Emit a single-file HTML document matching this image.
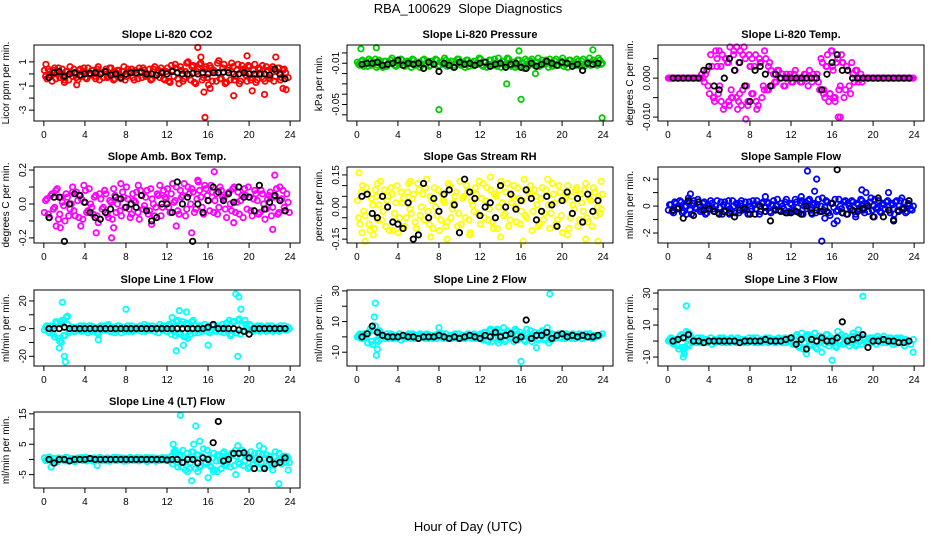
<!DOCTYPE html>
<html><head><meta charset="utf-8"><style>
html,body{margin:0;padding:0;background:#fff;}
svg{display:block;font-family:"Liberation Sans",Arial,sans-serif;}
</style></head><body>
<svg id="chart" width="936" height="540" viewBox="0 0 936 540">
<text x="468" y="13" text-anchor="middle" font-size="13" xml:space="preserve">RBA_100629  Slope Diagnostics</text>
<text x="468" y="531" text-anchor="middle" font-size="13">Hour of Day (UTC)</text>
</svg>
<script>
const xTicks=[0,4,8,12,16,20,24];
const co2Band=[0.3,-0.4,0.2,-0.6,0.5,0.1,-0.3,0.4,-0.5,0.2,0.6,-0.2,0.0,-0.5,0.4,0.2,-0.3,0.5,-0.1,0.3,-0.4,0.6,0.0,-0.3,0.4,-0.2,0.5,-0.5,0.1,0.3,-0.4,0.6,-0.2,0.2,0.4,-0.5,0.0,0.5,-0.3,0.3,-0.1,0.4,-0.4,0.6,0.1,-0.3,0.2,-0.5,0.5,-0.7,0.3,0.8,-0.4,0.6,-0.6,0.2,1.0,-0.5,0.7,-0.8,0.4,0.9,-0.3,0.6,-0.9,0.5,0.3,-0.6,1.1,-0.4,0.8,-0.7,0.5,0.9,-0.5,0.3,-0.8,0.7,0.2,-0.6,0.6,-0.3,0.8,-0.5,0.4,0.7,-0.6,0.3,-0.4,0.6,-0.2,0.5,-0.5,0.3,0.1,-0.3];
const co2Band2=[-0.2,0.4,-0.1,0.3,-0.4,0.5,0.0,-0.3,0.2,-0.5,0.1,0.4,-0.3,0.3,-0.2,0.5,-0.4,0.0,0.3,-0.2,0.4,-0.5,0.1,0.2,-0.3,0.5,0.0,-0.4,0.3,-0.1,0.2,-0.5,0.4,0.1,-0.3,0.3,-0.4,0.2,0.5,-0.2,0.0,-0.5,0.4,-0.1,0.3,0.5,-0.4,0.2,-0.6,0.7,-0.2,0.5,-0.8,0.3,-0.4,0.9,-0.1,0.6,-0.7,0.2,0.8,-0.5,0.4,-0.3,0.7,-0.6,0.1,0.9,-0.4,0.5,-0.8,0.3,-0.5,0.6,-0.2,0.8,-0.6,0.4,-0.1,0.7,-0.5,0.3,-0.7,0.5,0.0,-0.4,0.6,-0.3,0.4,-0.6,0.2,0.5,-0.3,0.4];
const co2Black=[-0.3,0.1,0.2,-0.2,0.0,0.1,-0.1,0.0,0.05,0.1,0.0,0.2,-0.1,0.0,-0.3,0.0,0.1,0.1,0.15,0.0,0.0,-0.1,0.1,0.0,0.2,0.1,0.0,0.0,0.05,0.0,0.1,0.0,0.1,0.1,0.15,0.1,0.0,0.0,0.1,0.0,0.0,0.0,0.0,-0.1,0.4,0.0,-0.4];
const co2OutX=[15.0,15.3,15.6,15.7,16.2,18.5,19.8,20.3,21.5,22.6,23.3,23.6,3.2,0.2,2.0];
const co2OutY=[2.2,1.4,-1.5,-3.6,-1.2,-1.8,1.5,-1.4,-1.7,1.4,-1.2,-1.3,-0.9,0.8,-0.7];
const pressBand=[-0.009,-0.012,-0.007,-0.011,-0.013,-0.008,-0.010,-0.006,-0.012,-0.009,-0.014,-0.008,-0.011,-0.007,-0.010,-0.013,-0.009,-0.006,-0.012,-0.010,-0.008,-0.014,-0.007,-0.011,-0.009,-0.012,-0.006,-0.010,-0.013,-0.008,-0.011,-0.007,-0.012,-0.009,-0.005,-0.013,-0.010,-0.008,-0.012,-0.006,-0.011,-0.009,-0.014,-0.007,-0.010,-0.012,-0.008,-0.011,-0.006,-0.013,-0.009,-0.011,-0.007,-0.012,-0.010,-0.005,-0.014,-0.008,-0.011,-0.006,-0.013,-0.009,-0.012,-0.007,-0.010,-0.015,-0.008,-0.011,-0.006,-0.012,-0.009,-0.013,-0.007,-0.011,-0.010,-0.006,-0.013,-0.008,-0.012,-0.009,-0.005,-0.011,-0.014,-0.007,-0.010,-0.012,-0.008,-0.013,-0.006,-0.011,-0.009,-0.012,-0.007,-0.010,-0.005,-0.011];
const pressBand2=[-0.011,-0.008,-0.013,-0.010,-0.006,-0.012,-0.009,-0.014,-0.007,-0.011,-0.008,-0.013,-0.010,-0.005,-0.012,-0.009,-0.011,-0.007,-0.013,-0.008,-0.010,-0.006,-0.012,-0.009,-0.014,-0.007,-0.011,-0.008,-0.012,-0.010,-0.006,-0.013,-0.009,-0.011,-0.007,-0.012,-0.008,-0.014,-0.010,-0.006,-0.012,-0.009,-0.007,-0.013,-0.011,-0.008,-0.010,-0.005,-0.012,-0.009,-0.014,-0.007,-0.011,-0.006,-0.013,-0.010,-0.008,-0.012,-0.005,-0.011,-0.009,-0.014,-0.007,-0.012,-0.010,-0.006,-0.013,-0.008,-0.011,-0.009,-0.005,-0.012,-0.010,-0.007,-0.014,-0.009,-0.011,-0.006,-0.012,-0.008,-0.013,-0.010,-0.007,-0.011,-0.009,-0.006,-0.012,-0.008,-0.013,-0.010,-0.005,-0.011,-0.009,-0.012,-0.007,-0.010];
const pressBlack=[-0.011,-0.010,-0.010,-0.009,-0.012,-0.011,-0.010,-0.007,-0.012,-0.010,-0.011,-0.010,-0.015,-0.009,-0.011,-0.018,-0.010,-0.012,-0.014,-0.009,-0.011,-0.010,-0.012,-0.010,-0.009,-0.013,-0.011,-0.010,-0.014,-0.011,-0.010,-0.014,-0.015,-0.010,-0.013,-0.011,-0.008,-0.010,-0.012,-0.009,-0.010,-0.013,-0.011,-0.017,-0.010,-0.011,-0.010];
const pressOutX=[0.4,1.9,8.0,14.6,16.0,23.9,17.4,23.0,15.8];
const pressOutY=[0.004,0.005,-0.055,-0.030,-0.045,-0.063,-0.020,0.003,0.002];
const tempBand=[0,0,0,0,0,0,0,0,0,0,0,0,0,0.001,-0.001,0.002,-0.004,0.003,-0.006,0.005,-0.002,0.006,-0.007,0.004,0.008,-0.005,0.002,-0.008,0.007,-0.003,0.005,-0.006,0.003,-0.004,0.006,-0.007,0.004,-0.002,0.005,-0.003,0.002,0.001,-0.001,0.002,0,-0.002,0.001,0,-0.001,0.001,0,0,-0.001,0.001,0,0.002,-0.001,0,0.001,-0.003,0.004,-0.005,0.006,-0.004,0.003,-0.006,0.005,-0.002,0.004,-0.003,0.002,-0.004,0.001,0.002,-0.001,0.001,0,0,0,0,0,0,0,0,0,0,0,0,0,0,0,0,0,0,0,0];
const tempBand2=[0,0,0,0,0,0,0,0,0,0,0,0,0,0,0.001,-0.002,0.006,-0.005,0.007,-0.004,0.003,-0.008,0.005,-0.006,-0.003,0.007,-0.005,0.004,-0.007,0.008,-0.002,0.006,-0.004,0.003,-0.008,0.005,-0.005,0.007,-0.003,0.004,-0.002,-0.001,0.002,0,0.001,-0.002,0,0.001,-0.001,0.002,0,-0.001,0,0.001,-0.002,0,0.001,0,-0.001,0.005,-0.004,0.003,-0.006,0.007,-0.005,0.004,-0.003,0.006,-0.005,0.003,-0.002,0.004,-0.001,0.002,0,-0.001,0,0,0,0,0,0,0,0,0,0,0,0,0,0,0,0,0,0,0,0];
const tempBlack=[0,0,0,0,0,0,0.002,0.003,-0.002,-0.003,0,0.005,0.002,0.004,-0.002,-0.006,0.002,0.003,0.001,-0.002,0.001,0,0,0,0,0,0,0,0,-0.003,0.001,0.004,0.006,0.002,0.002,0,0,0,0,0,0,0,0,0,0,0,0];
const tempOutX=[4.5,4.8,5.2,5.6,6.0,6.4,6.7,7.0,7.3,7.6,8.2,8.6,9.0,9.4,5.0,6.2,7.8,8.0,15.5,15.8,16.0,16.3,16.6,16.8,17.0,15.2,16.1,5.9,6.9,9.8];
const tempOutY=[-0.005,0.003,-0.006,0.005,-0.007,0.006,0.008,-0.004,0.006,-0.0105,0.005,-0.006,0.004,-0.003,0.007,-0.005,-0.007,0.003,0.003,-0.004,0.007,-0.005,-0.010,-0.010,0.004,-0.003,0.002,0.004,-0.006,0.003];
const ambBand=[-0.05,0.03,-0.08,0.06,-0.02,0.09,-0.06,0.01,-0.10,0.04,-0.03,0.07,-0.07,0.02,0.05,-0.09,0.08,-0.04,0.00,-0.06,0.05,-0.11,0.03,-0.02,0.06,-0.08,0.01,0.09,-0.05,0.03,-0.07,0.04,0.10,-0.03,-0.06,0.02,0.07,-0.09,0.05,-0.01,0.08,-0.04,0.03,-0.07,0.06,0.11,-0.02,0.04,0.09,-0.05,0.12,0.02,-0.04,0.08,0.05,-0.07,0.10,0.00,0.07,-0.03,0.13,0.04,-0.06,0.09,0.02,0.11,-0.05,0.06,-0.02,0.08,0.03,-0.08,0.07,-0.04,0.10,0.01,-0.06,0.05,0.09,-0.03,0.04,-0.07,0.08,0.02,-0.05,0.06,-0.09,0.03,0.07,-0.02,0.05,-0.06,0.02,0.08,-0.04,0.01];
const ambBand2=[0.02,-0.06,0.05,-0.03,0.08,-0.09,0.04,-0.01,0.06,-0.07,0.00,-0.04,0.07,-0.08,0.03,0.01,-0.05,0.09,-0.02,0.04,-0.07,0.06,-0.03,0.08,-0.06,0.02,-0.09,0.05,0.00,-0.04,0.07,-0.02,0.03,-0.08,0.06,0.01,-0.05,0.08,-0.03,0.04,-0.06,0.09,0.00,-0.02,0.05,-0.07,0.08,0.03,-0.02,0.06,0.01,0.10,-0.06,0.04,0.12,-0.03,0.06,0.09,-0.05,0.03,0.08,-0.02,0.11,0.05,-0.04,0.07,0.02,-0.06,0.10,0.04,-0.03,0.06,0.00,0.09,-0.05,0.07,0.02,-0.08,0.05,0.10,-0.04,0.03,0.06,-0.06,0.08,0.00,-0.03,0.05,-0.07,0.04,0.09,-0.05,0.03,-0.02,0.06,-0.05];
const ambBlack=[-0.08,0.04,0.04,-0.22,0.0,0.06,0.05,0.01,-0.05,-0.08,-0.09,-0.05,-0.03,0.04,0.03,-0.02,0.0,-0.02,0.05,-0.04,-0.1,-0.08,0.0,0.0,-0.05,0.13,0.0,0.04,-0.22,0.0,-0.05,0.02,0.1,0.07,0.02,0.06,0.01,0.1,0.04,0.04,-0.04,0.11,-0.03,0.01,0.05,0.02,-0.04];
const ambOutX=[1.2,1.6,2.8,3.6,5.1,6.6,6.8,9.2,12.9,14.4,16.6,18.5,22.3,22.5,23.0,7.5,15.0,3.9,10.5];
const ambOutY=[-0.13,-0.14,0.10,-0.13,-0.17,-0.20,-0.14,0.11,-0.13,-0.17,0.19,-0.11,-0.15,0.17,0.10,0.12,0.14,0.11,-0.12];
const rhBand=[0.03,-0.08,0.10,-0.04,0.06,-0.11,0.01,0.08,-0.06,0.12,-0.02,-0.09,0.05,0.09,-0.07,0.02,-0.12,0.07,0.04,-0.05,0.11,-0.03,0.06,-0.10,0.08,0.00,-0.06,0.13,-0.08,0.03,0.09,-0.04,-0.11,0.06,0.02,-0.07,0.10,-0.01,0.05,-0.09,0.12,0.04,-0.05,0.07,-0.12,0.01,0.09,-0.03,-0.08,0.11,0.03,-0.06,0.08,-0.10,0.05,0.00,0.12,-0.04,0.07,-0.09,0.02,0.10,-0.07,0.04,-0.02,0.13,-0.05,0.06,-0.11,0.08,0.01,-0.08,0.09,-0.03,0.05,-0.10,0.11,0.02,-0.06,0.07,-0.12,0.04,0.10,-0.05,0.01,0.08,-0.09,0.06,-0.02,0.11,-0.07,0.03,0.09,-0.04,0.05,-0.01];
const rhBand2=[-0.05,0.07,-0.02,0.09,-0.08,0.04,-0.10,0.05,0.01,-0.06,0.08,0.03,-0.11,0.06,-0.03,0.10,-0.05,0.02,-0.09,0.07,-0.01,0.04,-0.07,0.11,-0.04,0.06,0.09,-0.02,0.05,-0.10,0.00,0.08,-0.06,0.03,-0.09,0.11,-0.05,0.02,0.07,-0.03,-0.08,0.05,0.10,-0.06,0.03,-0.02,0.06,0.12,0.04,-0.05,0.09,-0.01,-0.07,0.06,-0.10,0.08,0.02,-0.03,0.11,-0.06,0.05,0.00,0.09,-0.08,0.03,-0.04,0.07,0.10,-0.02,0.05,-0.09,0.04,-0.06,0.08,0.01,-0.03,0.06,-0.08,0.10,-0.04,0.03,0.07,-0.10,0.05,-0.01,0.09,-0.06,0.02,0.08,-0.05,0.04,-0.09,0.07,0.00,-0.03,0.06];
const rhBlack=[0.05,0.06,-0.03,-0.05,0.05,0.0,-0.07,-0.08,-0.10,0.02,-0.15,-0.13,0.11,-0.05,0.04,-0.02,0.06,0.08,0.01,-0.12,0.13,0.07,0.04,-0.04,0.0,0.02,-0.05,0.1,0.0,0.06,-0.01,0.03,0.08,0.04,-0.06,-0.02,0.05,0.01,-0.09,0.03,0.07,-0.03,0.04,-0.07,0.06,-0.02,0.03];
const rhOutX=[0.2,0.5,0.8,1.6,2.0,5.2,7.2,8.8,11.0,13.0,14.0,16.2,18.6,20.5,22.3,23.5,23.8,3.5];
const rhOutY=[0.16,-0.12,-0.16,-0.13,0.11,0.12,-0.14,-0.15,-0.13,0.14,-0.14,-0.16,0.13,-0.13,-0.15,-0.16,0.12,-0.11];
const flowBand=[-0.3,0.1,-0.5,0.2,-0.1,0.3,-0.4,0.0,0.2,-0.6,0.4,-0.2,0.1,-0.3,0.3,-0.5,0.0,0.2,-0.4,0.4,-0.1,-0.6,0.3,0.0,-0.2,0.4,-0.5,0.1,0.2,-0.3,0.3,-0.6,0.0,0.4,-0.2,0.1,-0.4,0.3,-0.1,0.2,-0.5,0.4,0.0,-0.3,0.2,-0.2,0.5,-0.4,0.1,-0.3,0.3,-0.5,0.4,0.0,-0.2,0.5,-0.6,0.2,0.1,-0.4,0.6,-0.1,0.3,-0.7,0.2,0.5,-0.3,0.0,-0.5,0.4,0.2,-0.2,0.3,-0.6,0.1,0.5,-0.3,0.2,-0.4,0.6,0.0,-0.2,0.4,-0.5,0.1,0.3,-0.3,0.2,-0.6,0.4,0.0,-0.2,0.3,-0.4,0.1,-0.3];
const flowBand2=[0.1,-0.4,0.3,-0.2,0.4,-0.5,0.0,0.3,-0.3,0.2,-0.1,0.5,-0.4,0.2,-0.6,0.1,0.4,-0.2,0.0,-0.5,0.3,0.1,-0.3,0.4,-0.4,0.0,0.2,-0.5,0.4,-0.1,-0.3,0.3,-0.2,0.1,0.4,-0.6,0.2,-0.1,0.3,-0.4,0.1,-0.2,0.5,-0.3,0.0,0.3,-0.5,0.2,-0.4,0.5,-0.1,0.2,-0.6,0.3,0.4,-0.3,0.1,-0.5,0.5,0.0,-0.3,0.4,-0.5,0.2,-0.1,-0.4,0.5,-0.2,0.3,-0.6,0.0,0.4,-0.4,0.2,-0.2,0.4,-0.5,0.1,0.3,-0.3,0.5,-0.1,-0.4,0.2,-0.2,0.4,-0.5,0.1,0.3,-0.3,0.4,-0.1,-0.5,0.2,-0.2,0.0];
const flowBlack=[-0.3,-0.2,-0.9,0.4,-0.7,0.3,-0.3,-0.2,-0.4,-0.6,-0.4,-0.5,-0.8,-0.3,-0.2,-0.6,-0.6,0.0,-0.4,-1.1,-0.3,-0.4,-0.5,-0.5,-0.4,-0.6,0.0,-0.5,-0.3,-0.4,-0.4,0.2,2.7,-0.5,-0.6,-0.3,-0.4,-0.2,0.0,-0.8,0.6,-0.8,-0.3,-1.1,-0.4,-0.2,0.4];
const flowOutX=[2.2,2.0,1.8,13.6,14.5,15.0,14.3,16.2,16.5,15.3,18.9,19.3,21.5,22.0,22.8,13.0,6.0,9.5,20.1,18.3];
const flowOutY=[0.9,0.6,-0.6,2.6,2.0,-2.6,1.1,-1.3,-1.1,-0.9,1.2,1.0,1.0,-1.0,0.6,0.7,-0.6,0.7,-0.8,-0.8];
const line1Band=[-1,2,-3,1,-6,4,-9,6,-5,3,-2,1,-2,0,2,-1,1,-3,2,-1,0,-4,2,1,-1,3,-2,0,-1,2,-3,1,0,-2,2,-1,1,0,-2,3,-1,1,2,-2,0,3,-1,1,-2,2,4,-5,6,-3,5,-6,3,-4,6,2,-3,1,0,-2,2,-1,3,-2,1,0,-3,4,6,-4,5,-3,7,2,-2,1,3,-1,0,2,-2,1,-1,2,0,-2,1,-1,2,0,-1,1];
const line1Band2=[1,-2,2,-4,5,-7,3,-5,8,-3,1,-2,1,-1,-2,2,-1,2,-2,1,-3,1,-1,2,2,-2,1,-3,2,0,1,-2,2,-1,-2,1,-1,2,1,-2,2,-1,0,1,-3,1,2,-2,3,-4,-2,5,-4,3,-6,4,-2,5,-3,-1,2,-2,3,0,-3,2,-1,2,-2,3,1,-2,-5,5,-3,6,-4,-2,3,-1,2,-2,1,-1,2,0,-2,1,2,-1,1,-2,0,2,-1,0];
const line1Black=[0,0,0,1,0,0,0,0,0,0,0,0,0,0,0,0,0,0,0,0,0,0,0,0,0,0,0,0,0,0,0,1,3,0,0,0,0,-1,-2,-4,0,0,0,0,0,0,0];
const line1OutX=[1.8,2.0,2.1,1.5,1.7,1.6,2.3,8.0,5.3,12.5,12.9,13.2,13.9,13.6,14.0,16.0,18.7,19.0,18.9,19.2,19.6];
const line1OutY=[19,-20,-24,-14,-10,5,9,14,-8,8,-16,13,12,-12,-7,-12,25,23,-20,14,6];
const line2Band=[0,2,-1,1,-4,5,-5,7,-3,3,1,-1,0,2,-1,1,0,-2,1,0,2,-1,1,0,-1,1,0,2,-1,0,1,-1,0,2,0,-1,1,0,2,-1,0,1,-1,2,0,1,-1,0,2,-2,3,-3,5,-1,4,-4,1,6,-2,3,0,-3,4,-1,1,-2,5,0,-3,3,1,-1,4,-2,6,0,2,-1,1,0,2,-1,1,0,2,-1,0,1,-1,2,0,1,-1,0];
const line2Band2=[1,-1,2,0,3,-3,4,-2,2,-1,0,2,-1,1,1,-1,2,0,-1,1,0,2,-1,1,2,0,-1,1,1,-1,0,2,1,-1,2,0,-1,1,0,2,1,-1,0,1,-1,2,0,1,-1,3,-2,4,-3,2,5,-2,3,-3,4,-1,2,5,-2,3,0,-3,2,4,-1,1,-2,3,2,-1,3,-2,1,0,2,-1,1,2,0,-1,1,0,2,-1,1,0,2,-1,1,0,1,2];
const line2Black=[0,2,7,3,1,0,0,0,1,0,0,-1,0,0,0,1,0,-1,0,-1,0,1,0,-1,1,0,3,0,1,2,-2,0,11,-1,1,1,3,-1,1,2,0,1,0,1,0,0,1];
const line2OutX=[1.8,1.9,1.7,2.0,2.2,8.0,16.0,18.8,13.0,17.5,18.7];
const line2OutY=[22,-12,13,-8,4,6,-16,28,5,-7,-4];
const line3Band=[0,2,-2,1,-5,4,-6,6,-3,2,1,-1,0,2,-1,1,0,-2,1,0,2,-1,1,0,-1,1,0,2,-1,0,1,-1,0,2,0,-1,1,0,2,-1,0,1,-1,2,0,1,-1,0,2,-2,4,-4,5,-1,3,-3,1,5,-5,3,0,-2,4,-1,1,-3,6,0,-2,3,1,-1,5,-3,7,0,2,-1,1,0,2,-2,1,0,3,-1,0,1,-2,2,0,1,-3,0];
const line3Band2=[1,-1,1,-3,3,-4,2,-2,4,-1,0,2,-1,1,1,-1,2,0,-1,1,0,2,-1,1,2,0,-1,1,1,-1,0,2,1,-1,2,0,-1,1,0,2,1,-1,0,1,-1,2,0,1,-2,3,-3,2,-5,3,4,-2,2,-4,3,-1,2,4,-3,2,-1,-4,3,4,-1,1,-3,3,3,-2,4,-2,1,0,2,-1,1,3,0,-1,1,0,2,-2,1,0,2,-1,1,0,-2,1];
const line3Black=[0,1,2,4,0,0,-1,0,0,0,0,0,0,-1,0,0,0,0,1,0,0,0,1,2,-2,1,-5,1,0,2,0,0,2,12,0,1,2,4,-4,0,0,1,0,0,-1,-1,0];
const line3OutX=[1.8,1.6,1.5,2.0,19.0,16.0,13.5,15.0,23.9,1.7];
const line3OutY=[22,-8,-10,5,28,-12,-8,-7,-7,-4];
const line4Band=[0.5,-0.3,0.8,-0.6,0.2,-0.8,0.4,0.0,-0.5,0.6,-0.2,0.3,-0.7,0.5,0.1,-0.4,0.7,-0.1,0.2,-0.6,0.4,-0.3,0.6,0.0,-0.5,0.3,-0.2,0.7,-0.4,0.1,0.5,-0.6,0.2,-0.1,0.4,-0.3,0.6,-0.5,0.0,0.3,-0.7,0.5,-0.2,0.1,0.4,-0.4,0.6,-0.1,0.2,-0.5,-1.5,2.0,-2.5,1.0,3.0,-3.5,0.5,-1.0,2.5,-3.0,1.5,-2.0,3.5,-1.0,0.5,-2.5,2.0,-0.5,1.0,-3.0,2.5,-1.5,0.5,2.0,-2.0,1.0,-1.5,3.0,-0.5,1.5,-2.5,0.0,2.0,-1.0,-3.0,1.5,0.5,-2.0,1.0,-1.5,2.5,-0.5,0.0,1.0,-1.0,0.5];
const line4Band2=[-0.4,0.6,-0.2,0.3,-0.7,0.5,-0.1,0.4,0.7,-0.5,0.2,-0.6,0.3,-0.2,0.6,0.0,-0.5,0.4,-0.3,0.5,-0.1,0.6,-0.4,0.2,0.5,-0.6,0.1,-0.3,0.6,-0.2,0.0,0.4,-0.5,0.7,-0.3,0.2,-0.4,0.5,-0.1,0.6,0.1,-0.3,0.5,-0.6,0.2,0.4,-0.2,0.5,-0.4,1.0,2.5,-1.0,1.5,-2.5,-1.0,2.0,-3.0,2.5,0.0,1.5,-2.5,1.0,-1.5,3.0,-2.0,0.5,-3.5,1.5,-0.5,2.0,-2.0,1.0,-2.5,1.5,3.0,-1.0,0.5,-2.0,1.5,-3.0,2.5,-1.5,0.5,2.0,-1.0,-2.5,1.5,0.0,-2.0,1.0,-0.5,2.0,-1.5,0.5,1.0,-1.0];
const line4Black=[0,-1.2,0,0,-0.5,0,0,0,0.3,0,0,0,0,0,0,0,0,0,0,0,0,0,0,-0.2,0,0,-1,0,0,-1.2,0.5,0,5.5,12.5,-0.5,0,2,2,2.2,0.5,-3,0,-3,0,-1.5,-1,0.5];
const line4OutX=[0.7,5.2,12.6,12.8,13.3,14.0,14.4,14.6,14.8,15.0,15.2,16.0,16.5,16.9,17.6,18.7,18.9,21.0,21.4,22.3,22.9,23.5,23.8];
const line4OutY=[-2.5,-2,5,3,14.5,-4,-7,5,11,-4,6,-6,-4,-4,-2,-5,4.5,4.5,3.5,-3.5,-8,1,-3.5];

const NS='http://www.w3.org/2000/svg';
const svg=document.getElementById('chart');
function mk(tag,attrs,parent){const e=document.createElementNS(NS,tag);for(const k in attrs)e.setAttribute(k,attrs[k]);(parent||svg).appendChild(e);return e;}
const colX=[34,347,658], rowY=[45,167,290,412], W=266, H=76;
const panels=[
 {key:'co2',title:'Slope Li-820 CO2',ylab:'Licor ppm per min.',col:'#ff0000',yr:[-3.9,2.4],ticks:[-3,-2,-1,0,1],labels:['-3','','-1','','1'],band:co2Band,band2:co2Band2,black:co2Black,ox:co2OutX,oy:co2OutY},
 {key:'pressure',title:'Slope Li-820 Pressure',ylab:'kPa per min.',col:'#00cd00',yr:[-0.066,0.0077],ticks:[-0.06,-0.05,-0.04,-0.03,-0.02,-0.01,0],labels:['','-0.05','','','','-0.01',''],band:pressBand,band2:pressBand2,black:pressBlack,ox:pressOutX,oy:pressOutY},
 {key:'temp',title:'Slope Li-820 Temp.',ylab:'degrees C per min.',col:'#ff00ff',yr:[-0.011,0.0085],ticks:[-0.01,-0.005,0,0.005],labels:['-0.010','','0.000',''],band:tempBand,band2:tempBand2,black:tempBlack,ox:tempOutX,oy:tempOutY},
 {key:'amb-box-temp',title:'Slope Amb. Box Temp.',ylab:'degrees C per min.',col:'#ff00ff',yr:[-0.23,0.218],ticks:[-0.2,-0.1,0,0.1,0.2],labels:['-0.2','','0.0','','0.2'],band:ambBand,band2:ambBand2,black:ambBlack,ox:ambOutX,oy:ambOutY},
 {key:'gas-rh',title:'Slope Gas Stream RH',ylab:'percent per min.',col:'#ffff00',yr:[-0.168,0.187],ticks:[-0.15,-0.1,-0.05,0,0.05,0.1,0.15],labels:['-0.15','','','0.00','','','0.15'],band:rhBand,band2:rhBand2,black:rhBlack,ox:rhOutX,oy:rhOutY},
 {key:'sample-flow',title:'Slope Sample Flow',ylab:'ml/min per min.',col:'#0000ff',yr:[-2.74,2.9],ticks:[-2,-1,0,1,2],labels:['-2','','0','','2'],band:flowBand,band2:flowBand2,black:flowBlack,ox:flowOutX,oy:flowOutY},
 {key:'line1',title:'Slope Line 1 Flow',ylab:'ml/min per min.',col:'#00ffff',yr:[-27,27.9],ticks:[-20,-10,0,10,20],labels:['-20','','0','','20'],band:line1Band,band2:line1Band2,black:line1Black,ox:line1OutX,oy:line1OutY},
 {key:'line2',title:'Slope Line 2 Flow',ylab:'ml/min per min.',col:'#00ffff',yr:[-19,30.6],ticks:[-10,0,10,20,30],labels:['-10','','10','','30'],band:line2Band,band2:line2Band2,black:line2Black,ox:line2OutX,oy:line2OutY},
 {key:'line3',title:'Slope Line 3 Flow',ylab:'ml/min per min.',col:'#00ffff',yr:[-15.6,31.9],ticks:[-10,0,10,20,30],labels:['-10','','10','','30'],band:line3Band,band2:line3Band2,black:line3Black,ox:line3OutX,oy:line3OutY},
 {key:'line4',title:'Slope Line 4 (LT) Flow',ylab:'ml/min per min.',col:'#00ffff',yr:[-9.4,15.6],ticks:[-5,0,5,10,15],labels:['-5','','5','','15'],band:line4Band,band2:line4Band2,black:line4Black,ox:line4OutX,oy:line4OutY}
];
panels.forEach((p,i)=>{
 const L=colX[i%3], T=rowY[Math.floor(i/3)];
 const g=mk('g',{});
 
 
 const xs=v=>L+(v+0.96)/25.92*W;
 const ys=v=>T+H-(v-p.yr[0])/(p.yr[1]-p.yr[0])*H;
 const t=mk('text',{x:L+W/2,y:T-7,'text-anchor':'middle','font-size':11,'font-weight':'bold'},g);
 t.textContent=p.title;
 
 
 const yl=mk('text',{x:0,y:0,'text-anchor':'middle','font-size':10,transform:`translate(${L-25},${T+H/2}) rotate(-90)`},g);
 yl.textContent=p.ylab;
 
 
 mk('line',{x1:xs(0),x2:xs(24),y1:T+H,y2:T+H,stroke:'#000'},g);
 xTicks.forEach(v=>{
  mk('line',{x1:xs(v),x2:xs(v),y1:T+H,y2:T+H+5,stroke:'#000'},g);
  const tl=mk('text',{x:xs(v),y:T+H+17,'text-anchor':'middle','font-size':10},g);
  tl.textContent=v;
  
  
 });
 p.ticks.forEach((v,j)=>{
  mk('line',{x1:L-5,x2:L,y1:ys(v),y2:ys(v),stroke:'#000'},g);
  if(p.labels[j]){
   const tl=mk('text',{x:0,y:0,'text-anchor':'middle','font-size':10,transform:`translate(${L-8},${ys(v)}) rotate(-90)`},g);
   tl.textContent=p.labels[j];
   
   
  }
 });
 mk('line',{x1:L,x2:L,y1:ys(p.ticks[0]),y2:ys(p.ticks[p.ticks.length-1]),stroke:'#000'},g);
 const pg=mk('g',{fill:'none',stroke:p.col,'stroke-width':1.8},g);
 
 
 p.band.forEach((v,k)=>{mk('circle',{cx:xs(k*0.25+0.05),cy:ys(v),r:2.7},pg);});
 p.band2.forEach((v,k)=>{mk('circle',{cx:xs(k*0.25+0.17),cy:ys(v),r:2.7},pg);});
 p.ox.forEach((x,k)=>{mk('circle',{cx:xs(x),cy:ys(p.oy[k]),r:2.7},pg);});
 const bg=mk('g',{fill:'none',stroke:'#000','stroke-width':1.8},g);
 
 
 p.black.forEach((v,k)=>{mk('circle',{cx:xs(0.5+k*0.5),cy:ys(v),r:2.7},bg);});
 const box=mk('rect',{x:L,y:T,width:W,height:H,fill:'none',stroke:'#000'},g);
 
 
});
</script>
</body></html>
